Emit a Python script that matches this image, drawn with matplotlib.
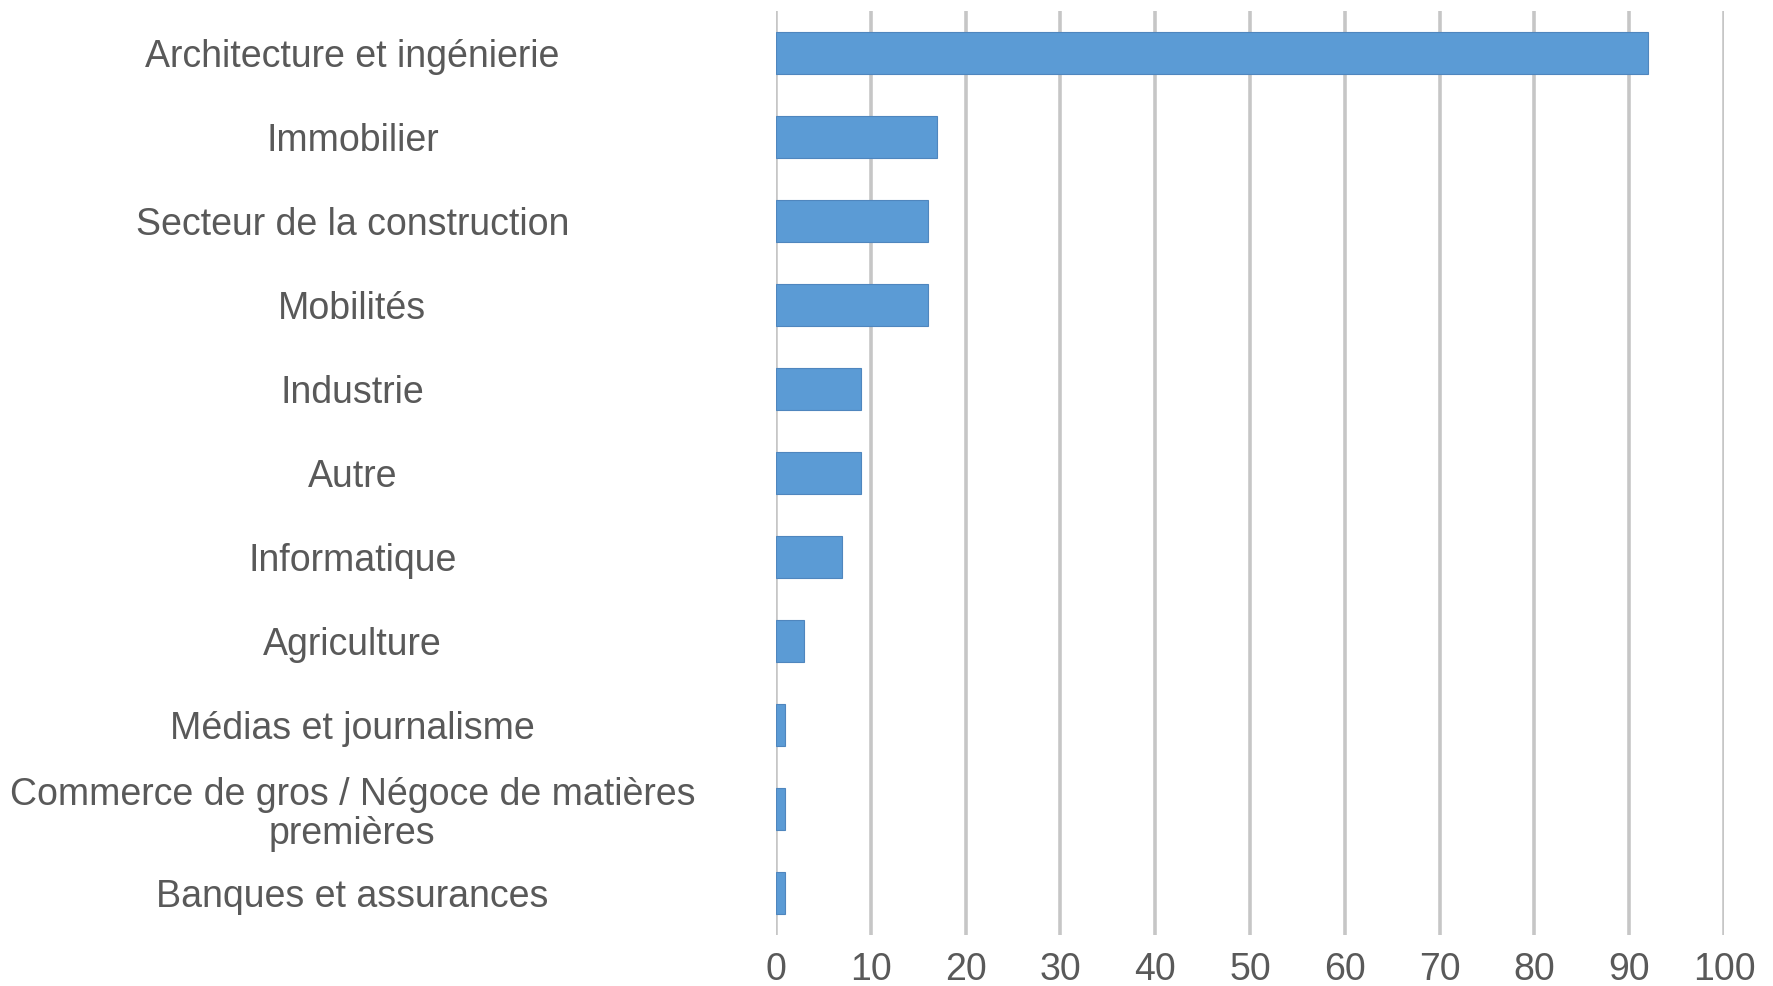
import numpy as np
import matplotlib as mpl
mpl.use('Agg')
import matplotlib.pyplot as plt

plt.rcParams['font.family'] = ['Liberation Sans', 'DejaVu Sans']

sectors = ['Architecture et ingénierie', 'Immobilier', 'Secteur de la construction',
           'Mobilités', 'Industrie', 'Autre', 'Informatique', 'Agriculture',
           'Médias et journalisme', 'Commerce de gros / Négoce de matières\npremières',
           'Banques et assurances']
counts = [92, 17, 16, 16, 9, 9, 7, 3, 1, 1, 1]
xticks = list(range(0, 101, 10))

textColor = '#595959'
barColor = '#5B9BD5'

fig = plt.figure(figsize=(17.74, 9.86), dpi=100)
ax = fig.add_axes([0.4374, 0.0517, 0.5344, 0.9371])

pos = np.arange(len(sectors))
ax.barh(pos, counts, height=0.5, color=barColor, edgecolor='#4F86BE',
        linewidth=0.8, zorder=3)

ax.set_xlim(0, 100)
ax.set_ylim(len(sectors) - 0.5, -0.5)
ax.set_xticks(xticks)
ax.set_yticks(pos)
ax.set_yticklabels(sectors, ha='center', fontsize=27, color=textColor)
for lbl in ax.get_yticklabels():
    lbl.set_linespacing(1.1)
ax.tick_params(axis='y', length=0, pad=305)
ax.tick_params(axis='x', length=0, pad=12, labelsize=27, labelcolor=textColor)

ax.grid(axis='x', color='#C6C6C6', linewidth=2.6, zorder=0)
for s in ax.spines.values():
    s.set_visible(False)

fig.savefig('out.png', dpi=100)
